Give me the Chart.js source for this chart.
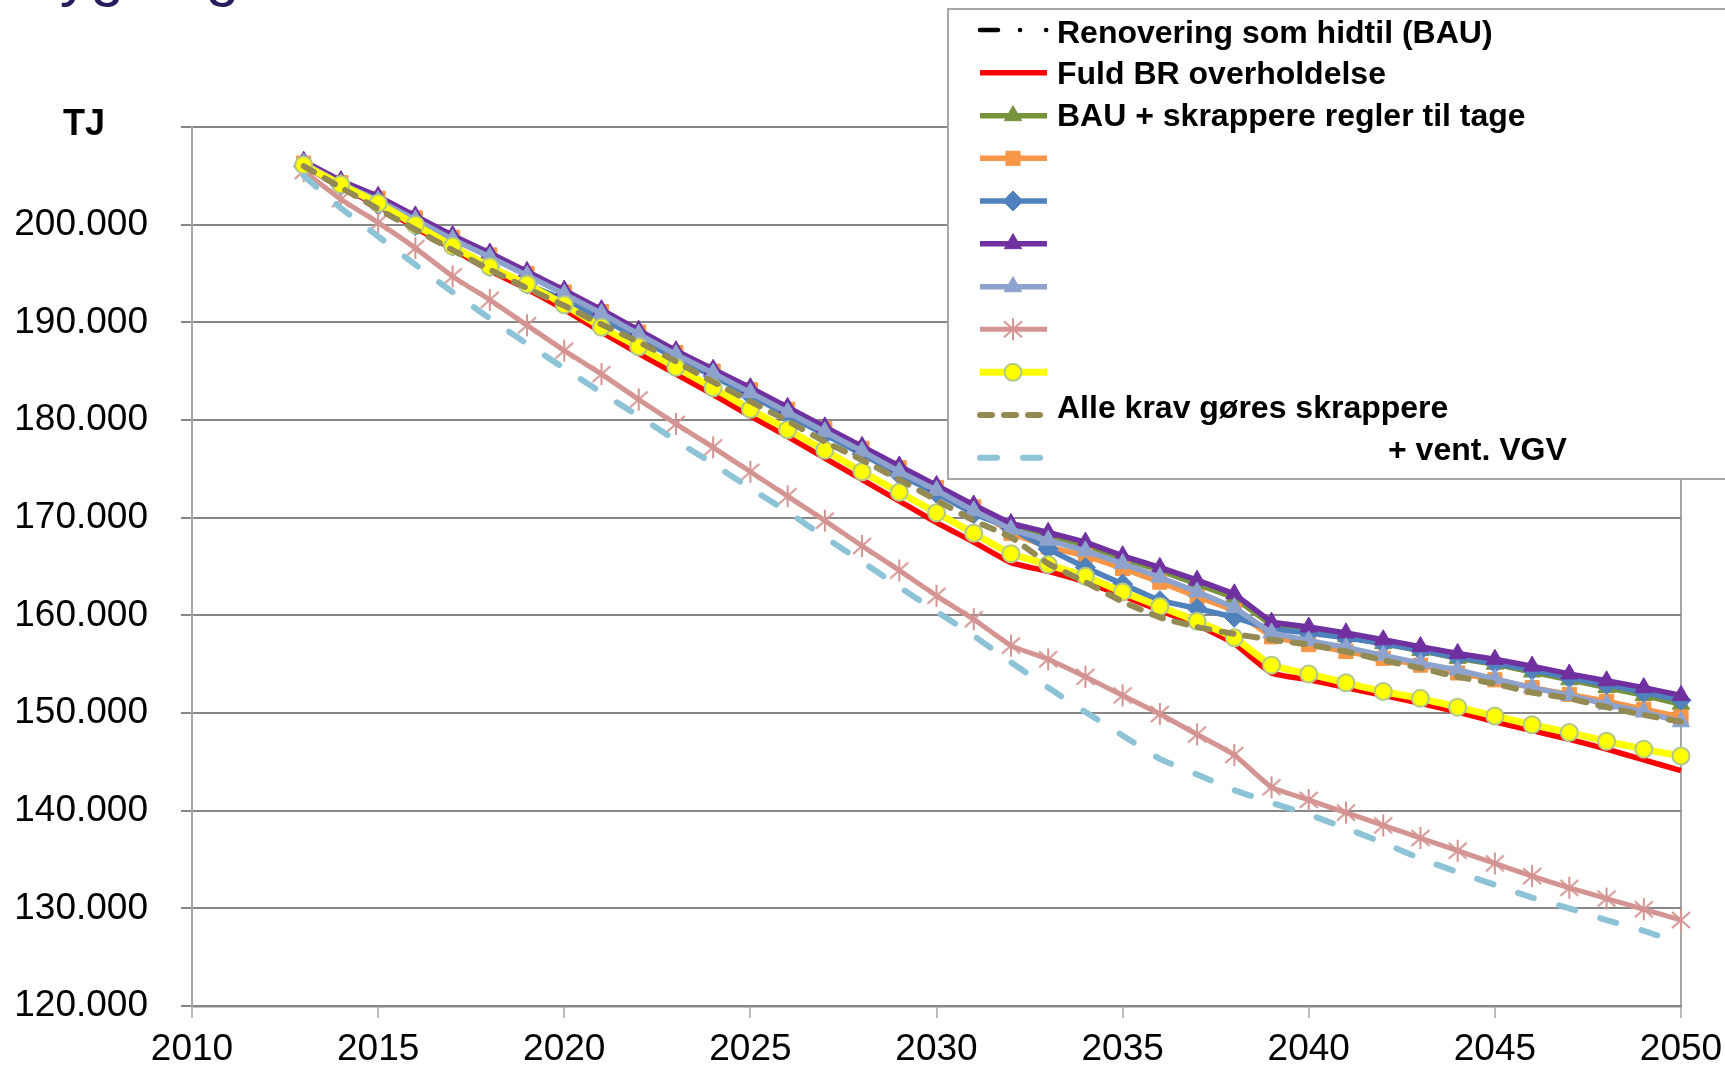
<!DOCTYPE html>
<html lang="da">
<head>
<meta charset="utf-8">
<title>Bygninger - TJ</title>
<script src="https://cdn.jsdelivr.net/npm/chart.js@4.4.1/dist/chart.umd.min.js"></script>
<style>
  html, body { margin: 0; padding: 0; background: #fff; }
  #grafica { display: block; }
</style>
</head>
<body>
<canvas id="grafica" width="1725" height="1068"></canvas>
<script>
// Datos (1000 TJ), 2013 - 2050
const anios = [2013,2014,2015,2016,2017,2018,2019,2020,2021,2022,
               2023,2024,2025,2026,2027,2028,2029,2030,2031,2032,
               2033,2034,2035,2036,2037,2038,2039,2040,2041,2042,
               2043,2044,2045,2046,2047,2048,2049,2050];

const serieBAU = [206.3,204.2,202.6,200.6,198.6,196.8,194.9,193.0,191.0,188.9,
                  186.8,184.9,183.0,181.0,179.0,177.0,175.0,173.0,171.0,169.1,
                  168.2,167.2,165.8,164.6,163.2,161.8,159.0,158.4,157.8,157.1,
                  156.4,155.6,155.0,154.2,153.4,152.6,151.8,150.9];
const serieRojo = [206.0,203.9,201.9,199.7,197.5,195.3,193.4,191.3,189.0,186.8,
                   184.7,182.6,180.4,178.3,176.1,173.9,171.7,169.5,167.5,165.4,
                   164.5,163.4,162.0,160.5,159.0,157.1,154.1,153.4,152.6,151.8,
                   151.0,150.1,149.1,148.2,147.3,146.3,145.2,144.1];
const serieVerde = [206.3,204.2,202.6,200.6,198.6,196.8,194.9,193.0,191.0,188.9,
                    186.8,184.9,183.0,181.0,179.0,177.0,175.0,173.0,171.0,169.1,
                    168.2,167.2,165.8,164.6,163.2,161.8,159.0,158.4,157.8,157.1,
                    156.4,155.6,155.0,154.2,153.4,152.6,151.8,150.9];
const serieNaranja = [206.3,204.3,202.7,200.7,198.7,196.9,195.0,193.1,191.1,189.0,
                      186.9,185.0,183.1,181.1,179.1,177.1,175.1,173.1,171.1,168.4,
                      167.0,166.1,164.8,163.4,161.9,160.5,157.8,157.0,156.3,155.6,
                      154.9,154.1,153.4,152.6,151.9,151.2,150.4,149.6];
const serieAzul = [206.0,204.0,202.0,199.9,197.8,195.7,193.9,192.3,190.4,188.4,
                   186.3,184.5,182.5,180.5,178.5,176.5,174.4,172.5,170.4,168.9,
                   166.8,164.9,163.2,161.5,160.7,159.8,158.6,158.2,157.7,157.1,
                   156.4,155.7,155.1,154.4,153.6,152.9,152.1,151.3];
const serieMorado = [206.5,204.5,202.9,200.9,198.9,197.1,195.2,193.3,191.3,189.2,
                     187.1,185.2,183.3,181.3,179.3,177.3,175.3,173.3,171.3,169.4,
                     168.5,167.5,166.1,164.9,163.6,162.2,159.3,158.8,158.2,157.5,
                     156.8,156.1,155.5,154.8,154.0,153.3,152.6,151.8];
const serieGris = [206.3,204.2,202.5,200.5,198.5,196.7,194.8,192.9,190.9,188.8,
                   186.7,184.8,182.8,180.8,178.8,176.8,174.7,172.8,170.7,168.8,
                   167.7,166.6,165.3,163.9,162.4,160.8,158.2,157.4,156.7,155.9,
                   155.1,154.4,153.5,152.6,151.8,150.9,150.1,149.1];
const serieRosa = [205.5,202.6,200.2,197.6,194.7,192.3,189.7,187.1,184.7,182.1,
                   179.6,177.2,174.7,172.2,169.7,167.1,164.6,162.0,159.6,156.9,
                   155.5,153.7,151.8,149.9,147.8,145.7,142.4,141.1,139.8,138.5,
                   137.2,135.9,134.6,133.3,132.1,131.0,129.9,128.8];
const serieAmarillo = [206.1,204.1,202.2,200.0,197.8,195.7,193.9,191.8,189.5,187.5,
                       185.4,183.3,181.1,179.0,176.9,174.7,172.6,170.5,168.4,166.3,
                       165.2,164.0,162.4,160.9,159.4,157.7,154.9,154.0,153.1,152.2,
                       151.5,150.6,149.7,148.8,148.0,147.1,146.3,145.6];
const serieOliva = [206.0,203.8,201.6,199.5,197.4,195.4,193.5,191.7,189.8,188.0,
                    186.0,183.9,181.9,179.9,177.8,175.9,173.9,171.8,169.7,168.0,
                    165.3,163.4,161.4,159.8,158.8,158.1,157.5,157.0,156.3,155.4,
                    154.6,153.7,153.0,152.1,151.5,150.6,149.8,149.1];
const serieCeleste = [205.0,201.7,198.8,195.9,193.1,190.4,187.8,185.3,182.8,180.4,
                      177.9,175.5,173.0,170.6,168.0,165.5,162.9,160.4,157.9,155.2,
                      152.6,150.1,147.7,145.3,143.7,142.1,140.8,139.6,138.2,136.7,
                      135.1,133.7,132.4,131.1,130.0,128.8,127.7,126.4];

const nombres = ['Renovering som hidtil (BAU)', 'Fuld BR overholdelse',
                 'BAU + skrappere regler til tage', '', '', '', '', '', '',
                 'Alle krav gøres skrappere', '+ vent. VGV'];
const ticksY = [120,130,140,150,160,170,180,190,200,210];
const ticksX = [2010,2015,2020,2025,2030,2035,2040,2045,2050];
const titulo = 'Bygninger';
const unidad = 'TJ';

const FUENTE = '"Liberation Sans", Arial, sans-serif';

function puntos(serie){
    return anios.map((a, k) => ({x: a, y: serie[k]}));
}

// marcador tipo asterisco (como Excel)
function hacerEstrella(color){
    var c = document.createElement('canvas');
    c.width = 22; c.height = 24;
    var g = c.getContext('2d');
    g.strokeStyle = color;
    g.lineWidth = 2;
    g.beginPath();
    g.moveTo(11, 1); g.lineTo(11, 23);
    g.moveTo(2, 4); g.lineTo(20, 20);
    g.moveTo(20, 4); g.lineTo(2, 20);
    g.stroke();
    return c;
}
const estrella = hacerEstrella('#d39492');

function serie(nombre, datos, color, extra){
    return Object.assign({
        label: nombre,
        data: puntos(datos),
        borderColor: color,
        backgroundColor: color,
        borderWidth: 5.5,
        pointRadius: 0,
        pointStyle: 'circle',
        pointBackgroundColor: color,
        pointBorderColor: color,
        pointBorderWidth: 1,
        borderJoinStyle: 'round',
        tension: 0,
        clip: false
    }, extra || {});
}

const datasets = [
    serie(nombres[0], serieBAU, '#000000', {borderWidth: 4.5, borderCapStyle: 'round', borderDash: [18, 22, 0.1, 26, 0.1, 22]}),
    serie(nombres[1], serieRojo, '#ff0000', {tension: 0.15}),
    serie(nombres[2], serieVerde, '#77933c', {pointStyle: 'triangle', pointRadius: 10}),
    serie(nombres[3], serieNaranja, '#f79646', {pointStyle: 'rect', pointRadius: 10}),
    serie(nombres[4], serieAzul, '#4f81bd', {pointStyle: 'rectRot', pointRadius: 10}),
    serie(nombres[5], serieMorado, '#7030a0', {pointStyle: 'triangle', pointRadius: 10}),
    serie(nombres[6], serieGris, '#8da3ce', {pointStyle: 'triangle', pointRadius: 10}),
    serie(nombres[7], serieRosa, '#d39492', {pointStyle: estrella, pointRadius: 10, borderWidth: 5, tension: 0.15}),
    serie(nombres[8], serieAmarillo, '#ffff00', {pointStyle: 'circle', pointRadius: 8.5, pointBorderColor: '#b3c78b', pointBorderWidth: 2, borderWidth: 7, tension: 0.15}),
    serie(nombres[9], serieOliva, '#948a54', {borderWidth: 6, borderDash: [12, 12], borderCapStyle: 'round', tension: 0.15}),
    serie(nombres[10], serieCeleste, '#8cc3d7', {borderWidth: 6, borderDash: [17, 26], borderCapStyle: 'round', tension: 0.15})
];
// como en Excel: la ultima serie queda encima
datasets.forEach((d, i) => { d.order = 20 - i; });

function dibujarMarcador(ctx, d, x, y){
    var r = d.pointRadius;
    if (!r) return;
    var st = d.pointStyle;
    if (st instanceof HTMLCanvasElement){
        ctx.drawImage(st, x - st.width / 2, y - st.height / 2);
        return;
    }
    ctx.beginPath();
    if (st === 'triangle'){
        for (var k = 0; k < 3; k++){
            var a = k * 2 * Math.PI / 3;
            var px = x + Math.sin(a) * r, py = y - Math.cos(a) * r;
            if (k === 0) ctx.moveTo(px, py); else ctx.lineTo(px, py);
        }
        ctx.closePath();
    } else if (st === 'rect'){
        var s = r * Math.SQRT1_2;
        ctx.rect(x - s, y - s, 2 * s, 2 * s);
    } else if (st === 'rectRot'){
        ctx.moveTo(x - r, y); ctx.lineTo(x, y - r); ctx.lineTo(x + r, y); ctx.lineTo(x, y + r);
        ctx.closePath();
    } else {
        ctx.arc(x, y, r, 0, Math.PI * 2);
    }
    ctx.fillStyle = d.pointBackgroundColor;
    ctx.fill();
    ctx.lineWidth = d.pointBorderWidth;
    ctx.strokeStyle = d.pointBorderColor;
    ctx.stroke();
}

// leyenda, titulo y unidad dibujados encima de la grafica
const filasY = [30, 72.7, 115.7, 158.3, 201, 243.7, 286.7, 329.3, 372.3, 415, 457.7];
const textoPos = [[1057, 42.5], [1057, 83.5], [1057, 126], null, null, null, null, null, null, [1057, 418], [1388, 460]];

const extras = {
    id: 'extras',
    afterDraw(chart){
        var ctx = chart.ctx;
        ctx.save();
        ctx.fillStyle = '#251d5c';
        ctx.font = '61px ' + FUENTE;
        ctx.textBaseline = 'alphabetic';
        ctx.fillText(titulo, 19, -6);

        ctx.fillStyle = '#000';
        ctx.font = 'bold 36px ' + FUENTE;
        ctx.fillText(unidad, 63, 135);

        ctx.fillStyle = '#fff';
        ctx.fillRect(948, 9, 800, 470);
        ctx.strokeStyle = '#a6a6a6';
        ctx.lineWidth = 2;
        ctx.strokeRect(948, 9, 800, 470);

        chart.data.datasets.forEach((d, i) => {
            var y = filasY[i];
            ctx.save();
            ctx.strokeStyle = d.borderColor;
            ctx.lineWidth = d.borderWidth;
            ctx.lineCap = d.borderCapStyle || 'butt';
            ctx.setLineDash(d.borderDash || []);
            ctx.beginPath();
            ctx.moveTo(980, y);
            ctx.lineTo(1047, y);
            ctx.stroke();
            ctx.setLineDash([]);
            dibujarMarcador(ctx, d, 1013, y);
            ctx.restore();
            if (textoPos[i] && d.label){
                ctx.fillStyle = '#000';
                ctx.font = 'bold 32px ' + FUENTE;
                ctx.fillText(d.label, textoPos[i][0], textoPos[i][1]);
            }
        });
        ctx.restore();
    }
};

document.addEventListener('DOMContentLoaded', function(){
    var ctx = document.getElementById('grafica').getContext('2d');
    var grafica = new Chart(ctx, {
        type: 'line',
        data: { datasets: datasets },
        options: {
            responsive: false,
            devicePixelRatio: 1,
            animation: false,
            layout: { padding: { top: 127, right: 44, left: 0, bottom: 0 } },
            plugins: {
                legend: { display: false },
                tooltip: { enabled: false }
            },
            scales: {
                x: {
                    type: 'linear',
                    min: ticksX[0],
                    max: ticksX[ticksX.length - 1],
                    afterBuildTicks: function(s){ s.ticks = ticksX.map(v => ({value: v})); },
                    afterFit: function(s){ s.height = 62; s.paddingRight = 0; s.paddingLeft = 0; },
                    ticks: {
                        color: '#000',
                        padding: 10,
                        maxRotation: 0,
                        font: { family: FUENTE, size: 37 },
                        callback: v => String(v)
                    },
                    grid: {
                        color: c => (c.tick && c.tick.value === 2050) ? '#a6a6a6' : 'rgba(0,0,0,0)',
                        lineWidth: 2,
                        tickLength: 12,
                        tickColor: '#a6a6a6',
                        tickWidth: 1.5
                    },
                    border: { color: '#878787', width: 2.5 }
                },
                y: {
                    min: ticksY[0],
                    max: ticksY[ticksY.length - 1],
                    afterBuildTicks: function(s){ s.ticks = ticksY.map(v => ({value: v})); },
                    afterFit: function(s){ s.width = 192; s.paddingTop = 0; s.paddingBottom = 0; },
                    ticks: {
                        color: '#000',
                        padding: 33,
                        font: { family: FUENTE, size: 37 },
                        callback: v => v === 210 ? '' : v + '.000'
                    },
                    grid: {
                        color: '#878787',
                        lineWidth: 2,
                        tickLength: 11,
                        tickColor: '#878787'
                    },
                    border: { color: '#a6a6a6', width: 2 }
                }
            }
        },
        plugins: [extras]
    });
});
</script>
</body>
</html>
